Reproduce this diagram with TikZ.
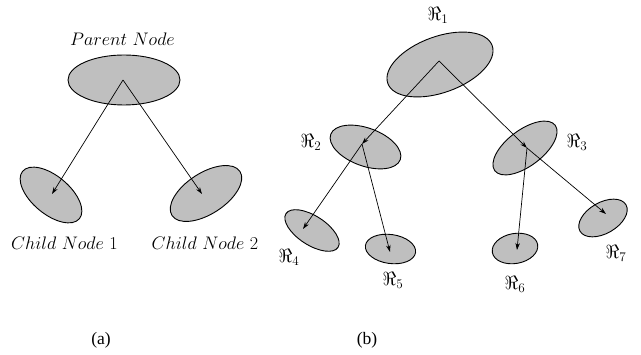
\documentclass[tikz,border=0pt]{standalone}
\usepackage[no-math]{fontspec}
\newfontfamily\capfont{Liberation Serif}
\usetikzlibrary{shapes.geometric,arrows.meta}
\tikzset{
  ell/.style={ellipse, draw=black, line width=0.9pt, fill=black!25, inner sep=0pt},
  arr/.style={line width=0.7pt, -{Stealth[length=7pt,width=4.5pt]}},
  lab/.style={inner sep=0pt, font=\fontsize{17.28}{20}\selectfont, scale=1.05},
  rlab/.style={inner sep=0pt, font=\fontsize{17.28}{20}\selectfont, scale=1.1},
  captxt/.style={inner sep=0pt, font=\capfont\fontsize{17.5}{20}\selectfont}
}
\begin{document}
\begin{tikzpicture}[x=1pt,y=-1pt]
\useasboundingbox (0,0) rectangle (641,355);
% ---- (a)
\node[ell, minimum width=112pt, minimum height=50pt] (parent) at (124,80) {};
\node[ell, minimum width=74pt, minimum height=38pt, rotate=-40] (child1) at (51,195) {};
\node[ell, minimum width=81pt, minimum height=41pt, rotate=33] (child2) at (206,193.5) {};
\coordinate (pp) at (123,80);
\coordinate (c1p) at (52,194);
\coordinate (c2p) at (202,194);
\draw[arr] (pp) -- (c1p);
\draw[arr] (pp) -- (c2p);
\node[lab] (tparent) at (122.5,39) {$Parent\ Node$};
\node[lab] (tchild1) at (64.5,243) {$Child\ Node\ 1$};
\node[lab] (tchild2) at (205,243) {$Child\ Node\ 2$};
\node[captxt] (capa) at (101,340) {(a)};
% ---- (b)
\node[ell, minimum width=111pt, minimum height=56pt, rotate=20] (r1) at (440,64.5) {};
\node[ell, minimum width=74pt, minimum height=38pt, rotate=-20] (r2) at (365.5,147) {};
\node[ell, minimum width=75.6pt, minimum height=36pt, rotate=37] (r3) at (525,148) {};
\node[ell, minimum width=62pt, minimum height=29pt, rotate=-33] (r4) at (312,230.5) {};
\node[ell, minimum width=50.6pt, minimum height=29pt, rotate=-8] (r5) at (390.5,249) {};
\node[ell, minimum width=46pt, minimum height=30pt, rotate=10] (r6) at (515,248.5) {};
\node[ell, minimum width=53pt, minimum height=31pt, rotate=30] (r7) at (603,218) {};
\coordinate (r1p) at (439,61);
\coordinate (r2p) at (362,144);
\coordinate (r3p) at (527,148);
\coordinate (r4p) at (303,229);
\coordinate (r5p) at (390,252);
\coordinate (r6p) at (517,250);
\coordinate (r7p) at (606,214);
\draw[arr] (r1p) -- (r2p);
\draw[arr] (r1p) -- (r3p);
\draw[arr] (r2p) -- (r4p);
\draw[arr] (r2p) -- (r5p);
\draw[arr] (r3p) -- (r6p);
\draw[arr] (r3p) -- (r7p);
\node[rlab] (t1) at (438,15) {$\Re_1$};
\node[rlab] (t2) at (311,142) {$\Re_2$};
\node[rlab] (t3) at (577,142) {$\Re_3$};
\node[rlab] (t4) at (289,257) {$\Re_4$};
\node[rlab] (t5) at (393,280) {$\Re_5$};
\node[rlab] (t6) at (515,284) {$\Re_6$};
\node[rlab] (t7) at (616,253) {$\Re_7$};
\node[captxt] (capb) at (367,340) {(b)};
\end{tikzpicture}
\end{document}
